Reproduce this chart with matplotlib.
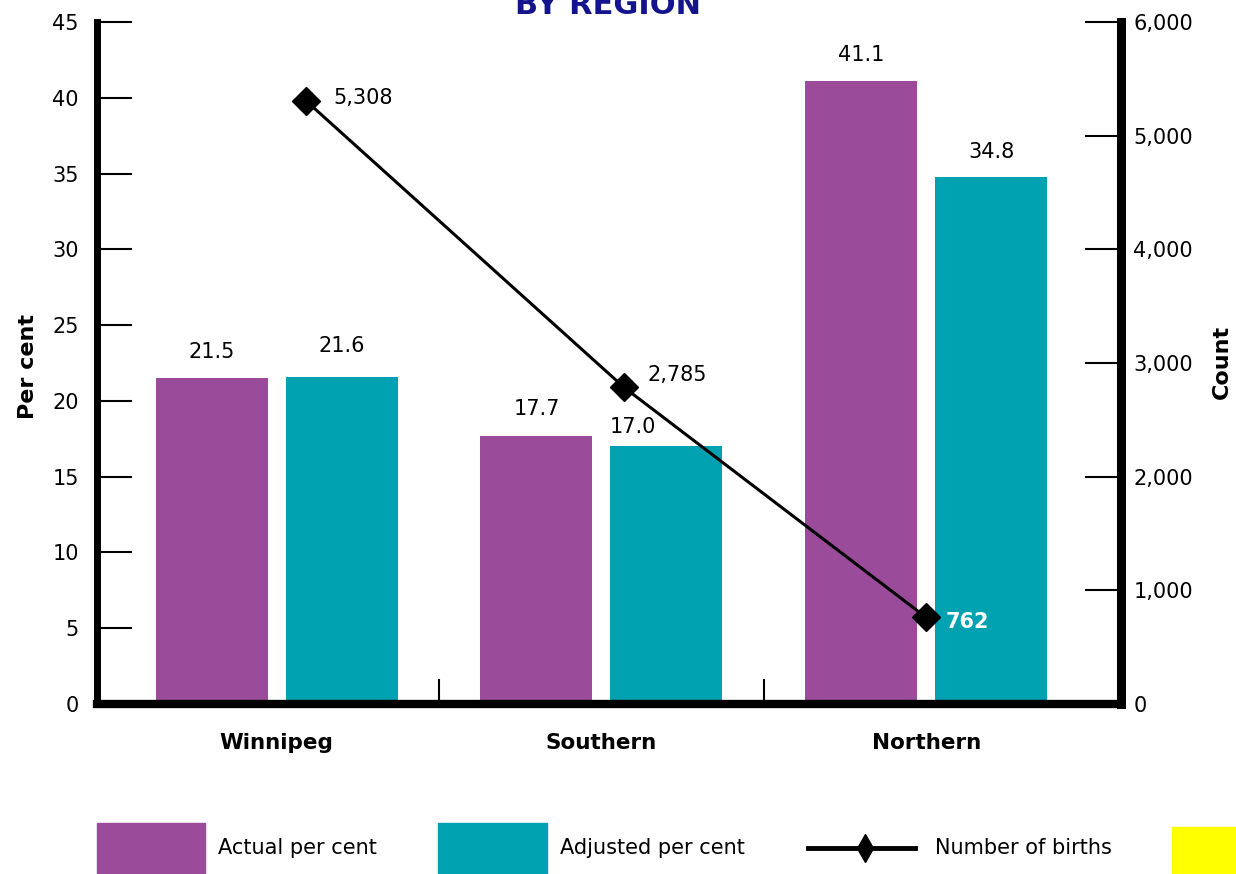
import matplotlib
matplotlib.use("Agg")
import matplotlib.pyplot as plt
from matplotlib.patches import Rectangle
from matplotlib.ticker import FuncFormatter

regions = ["Winnipeg", "Southern", "Northern"]
actual_pct = [21.5, 17.7, 41.1]
adjusted_pct = [21.6, 17.0, 34.8]
births = [5308, 2785, 762]

PURPLE = "#9A4C9B"
TEAL = "#00A1B0"
NAVY = "#14148C"

W, H = 1236, 874
fig = plt.figure(figsize=(W / 100, H / 100), dpi=100)
plt.rcParams["font.family"] = ["DejaVu Sans"]

# main axes placed in pixel terms
ax = fig.add_axes([97 / W, 1 - 704 / H, 1024 / W, 682 / H])
ax2 = ax.twinx()

x = list(range(len(regions)))
bar_w = 0.345
off = 0.2

ax.bar([i - off for i in x], actual_pct, bar_w, color=PURPLE, zorder=2)
ax.bar([i + off for i in x], adjusted_pct, bar_w, color=TEAL, zorder=2)

# value labels above bars
for i, v in enumerate(actual_pct):
    ax.annotate(f"{v:.1f}", (i - off, v), xytext=(0, 19), textcoords="offset points",
                ha="center", va="center", fontsize=15)
adj_offsets = [(0, 22), (-24, 14), (0, 18)]
for i, v in enumerate(adjusted_pct):
    ax.annotate(f"{v:.1f}", (i + off, v), xytext=adj_offsets[i], textcoords="offset points",
                ha="center", va="center", fontsize=15)

ax.set_xlim(-0.553, 2.600)
ax.set_ylim(0, 45)
ax.set_yticks(range(0, 46, 5))
ax.set_xticks(x)
ax.set_xticklabels(regions, fontsize=15.5, fontweight="bold")
ax.set_xticks([0.5, 1.5], minor=True)
ax.tick_params(axis="x", which="major", length=0, pad=21)
ax.tick_params(axis="x", which="minor", direction="in", length=18, width=1.5)
ax.tick_params(axis="y", direction="in", length=25, width=1.5, labelsize=15, pad=13)

for s in ["top", "right"]:
    ax.spines[s].set_visible(False)
ax.spines["left"].set_linewidth(5)
ax.spines["bottom"].set_linewidth(6)

# births line on the secondary axis
line_shift = [0.09, 0.07, 0.0]
bx = [i + s for i, s in zip(x, line_shift)]
ax2.plot(bx, births, color="black", lw=2.2, marker="D", ms=14, zorder=3)
ax2.set_ylim(0, 6000)
ax2.set_yticks(range(0, 6001, 1000))
ax2.yaxis.set_major_formatter(FuncFormatter(lambda v, p: f"{int(v):,}"))
ax2.tick_params(axis="y", direction="in", length=26, width=1.5, labelsize=15, pad=9)
for s in ["top", "left", "bottom"]:
    ax2.spines[s].set_visible(False)
ax2.spines["right"].set_linewidth(6.5)

birth_offsets = [(20, 2), (17, 9), (14, -3)]
for i, (xx, b) in enumerate(zip(bx, births)):
    last = i == len(births) - 1
    ax2.annotate(f"{b:,}", (xx, b), xytext=birth_offsets[i], textcoords="offset points",
                 ha="left", va="center", fontsize=15,
                 color="white" if last else "black",
                 fontweight="bold" if last else "normal")

fig.text(28 / W, 1 - 367 / H, "Per cent", rotation=90, ha="center", va="center",
         fontsize=16, fontweight="bold")
fig.text(1222 / W, 1 - 362 / H, "Count", rotation=90, ha="center", va="center",
         fontsize=16, fontweight="bold")

# heading sits partly above the top edge
fig.text(608 / W, 1 - 14 / H, "BY REGION", ha="center", va="baseline",
         fontsize=22, fontweight="bold", color=NAVY)

# legend strip along the bottom, drawn in pixel coordinates
leg = fig.add_axes([0, 0, 1, 1], zorder=-1)
leg.set_xlim(0, W)
leg.set_ylim(H, 0)
leg.axis("off")
leg.add_patch(Rectangle((97, 823), 108, 60, color=PURPLE))
leg.text(218, 848, "Actual per cent", fontsize=15, va="center")
leg.add_patch(Rectangle((438, 823), 109, 60, color=TEAL))
leg.text(560, 848, "Adjusted per cent", fontsize=15, va="center")
leg.plot([808, 915], [848, 848], color="black", lw=3.5)
leg.plot([865], [848], marker="d", ms=14, color="black")
leg.text(935, 848, "Number of births", fontsize=15, va="center")
leg.add_patch(Rectangle((1172, 827), 70, 60, color="#FFFF00"))

fig.savefig("out.png", dpi=100)
